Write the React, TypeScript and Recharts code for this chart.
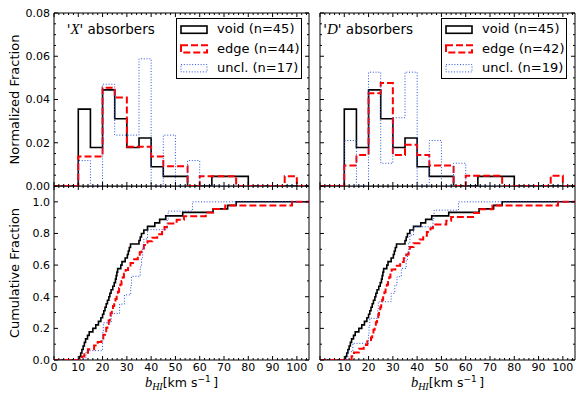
import React from 'react';
import { LineChart, Line, XAxis, YAxis, ReferenceArea } from 'recharts';

// b_HI values (km/s) of each absorber sample, sorted
const voidB = [10.5, 11.0, 11.5, 12.0, 12.5, 13.0, 13.8, 14.5, 16.0, 17.2, 18.3, 19.3,
  20.0, 20.5, 21.0, 21.5, 22.0, 22.6, 23.0, 23.5, 24.2, 24.8,
  25.3, 25.6, 25.9, 26.2, 27.5, 28.0, 29.3, 30.2, 30.6, 31.0, 31.5,
  35.0, 35.5, 36.0, 37.0, 38.5, 41.5, 43.5, 46.0, 53.0, 65.5, 71.5, 75.0];
const edgeXB = [11.5, 12.5, 14.0, 16.5, 18.0, 19.5,
  20.3, 21.0, 21.5, 22.0, 22.5, 23.0, 23.3, 23.8, 24.3, 24.8,
  25.3, 25.8, 26.3, 26.8, 27.3, 27.8, 28.3, 28.8, 29.5,
  30.5, 31.5, 33.0, 34.5, 35.3, 36.0, 37.0, 38.5, 40.5, 42.5, 44.5,
  45.5, 46.5, 50.5, 53.5, 62.5, 65.5, 70.5, 98.0];
const unclXB = [13.2, 20.0, 20.1, 20.3, 23.6, 27.0, 29.0, 31.6, 31.9,
  35.5, 36.0, 36.5, 37.0, 38.5, 46.5, 47.0, 57.0];
const edgeDB = [13.0, 14.0, 16.0, 18.0, 19.5,
  21.0, 21.5, 22.0, 22.5, 23.0, 23.5, 24.0, 24.3, 24.8,
  25.2, 25.6, 26.0, 26.5, 27.0, 27.5, 28.0, 28.5, 29.0, 29.5,
  31.0, 33.0, 34.5, 35.5, 36.5, 37.0, 38.5, 41.0, 42.5, 44.0,
  45.5, 46.5, 52.0, 54.0, 63.0, 65.5, 71.0, 98.0];
const unclDB = [11.5, 13.5, 20.0, 20.2, 20.5, 23.8, 24.0, 29.3, 30.8, 31.7, 33.5,
  35.5, 36.0, 36.5, 37.0, 38.5, 46.5, 47.0, 57.0];

const binEdges = [0, 5, 10, 15, 20, 25, 30, 35, 40, 45, 50, 55, 60, 65, 70, 75, 80, 85, 90, 95, 100, 105];
const BIN = 5;
const X_MAX = 105;

const xTicks = Array.from({ length: 53 }, (_, i) => i * 2);
const histTicks = Array.from({ length: 17 }, (_, i) => +(i * 0.005).toFixed(3));
const cumTicks = Array.from({ length: 12 }, (_, i) => +(i * 0.1).toFixed(1));

const frac = (vals: number[], lo: number) =>
  vals.filter((v) => v >= lo && v < lo + BIN).length / (vals.length * BIN);

const histRows = (vv: number[], ee: number[], uu: number[]) =>
  binEdges.map((lo) => ({ x: lo, void: frac(vv, lo), edge: frac(ee, lo), uncl: frac(uu, lo) }));

const ecdf = (vals: number[]) => [
  { x: 0, y: 0 },
  ...vals.map((v, i) => ({ x: v, y: (i + 1) / vals.length })),
  { x: X_MAX, y: 1 },
];

const STY = {
  void: { stroke: '#000000', strokeWidth: 1.6 },
  edge: { stroke: '#ff0000', strokeWidth: 2, strokeDasharray: '7 3' },
  uncl: { stroke: '#2a4fd8', strokeWidth: 1, strokeDasharray: '1 1.8' },
};

const PW = 255;
const GAP = 4;

const xTick = (plotH: number, labels: boolean) => (p: any) => {
  const v = p.payload.value;
  const major = v % 10 === 0;
  const len = major ? 4 : 2;
  const yb = p.y - GAP;
  return (
    <g>
      <line x1={p.x} x2={p.x} y1={yb} y2={yb - len} stroke="#000" />
      <line x1={p.x} x2={p.x} y1={yb - plotH} y2={yb - plotH + len} stroke="#000" />
      {labels && major && (
        <text x={p.x} y={p.y} dy="0.64em" textAnchor="middle" fontSize={11} fill="#000">{v}</text>
      )}
    </g>
  );
};

const yTick = (isMajor: (v: number) => boolean, fmt: ((v: number) => string) | null) => (p: any) => {
  const v = p.payload.value;
  const major = isMajor(v);
  const len = major ? 4 : 2;
  const xl = p.x + GAP;
  return (
    <g>
      <line x1={xl} x2={xl + len} y1={p.y} y2={p.y} stroke="#000" />
      <line x1={xl + PW} x2={xl + PW - len} y1={p.y} y2={p.y} stroke="#000" />
      {fmt && major && (
        <text x={p.x} y={p.y} dy="0.36em" textAnchor="end" fontSize={11} fill="#000">{fmt(v)}</text>
      )}
    </g>
  );
};

const LegendBox = ({ labels }: { labels: string[] }) => {
  const keys = ['void', 'edge', 'uncl'] as const;
  return (
    <svg width={127} height={62} style={{ position: 'absolute', overflow: 'visible' }}>
      <rect x={0.5} y={0.5} width={125} height={60} fill="#fff" stroke="#000" />
      {keys.map((k, i) => (
        <g key={k}>
          <rect x={5} y={8 + i * 19.3} width={26} height={7.3} fill="none" {...STY[k]} />
          <text x={41} y={15.3 + i * 19.3} fontSize={13} fill="#000">{labels[i]}</text>
        </g>
      ))}
    </svg>
  );
};

const Title = ({ x, letter }: { x: number; letter: string }) => (
  <text x={x} y={34.3} fontSize={13.5} fill="#000">
    {"'"}
    <tspan fontFamily="Liberation Serif" fontStyle="italic" fontSize={15}>{letter}</tspan>
    {"' absorbers"}
  </text>
);

const YLabel = ({ cy, text }: { cy: number; text: string }) => (
  <text x={19} y={cy} transform={`rotate(-90 19 ${cy})`} textAnchor="middle" fontSize={13} fill="#000">{text}</text>
);

const XLabel = ({ cx }: { cx: number }) => (
  <text x={cx} y={201} textAnchor="middle" fontSize={12.5} fill="#000">
    <tspan fontFamily="Liberation Serif" fontStyle="italic" fontSize={14.5}>b</tspan>
    <tspan fontFamily="Liberation Serif" fontStyle="italic" fontSize={10} dy={3}>HI</tspan>
    <tspan dy={-3}>[km s</tspan>
    <tspan fontSize={9} dy={-5}>−1</tspan>
    <tspan dy={5}>{'\u2009]'}</tspan>
  </text>
);

const HistPanel = ({ left, withY, ee, uu, letter }: any) => {
  const rows = histRows(voidB, ee, uu);
  const yW = withY ? 54 : 8;
  const w = yW + PW + 2;
  return (
    <div style={{ position: 'absolute', left, top: 0, width: w, height: 192 }}>
      <LineChart width={w} height={192} data={rows} margin={{ top: 13, right: 2, bottom: 0, left: 0 }}>
        <XAxis dataKey="x" type="number" domain={[0, X_MAX]} allowDataOverflow ticks={xTicks} interval={0}
          height={6} tickSize={0} tickMargin={GAP} axisLine={false} tick={xTick(173, false)} />
        <YAxis type="number" domain={[0, 0.08]} allowDataOverflow ticks={histTicks} interval={0}
          width={yW} tickSize={0} tickMargin={GAP} axisLine={false}
          tick={yTick((v) => Math.round(v * 1000) % 20 === 0, withY ? (v) => v.toFixed(2) : null)} />
        <Line type="stepAfter" dataKey="void" {...STY.void} dot={false} activeDot={false} isAnimationActive={false} />
        <Line type="stepAfter" dataKey="edge" {...STY.edge} dot={false} activeDot={false} isAnimationActive={false} />
        <Line type="stepAfter" dataKey="uncl" {...STY.uncl} dot={false} activeDot={false} isAnimationActive={false} />
        <ReferenceArea x1={0} x2={X_MAX} y1={0} y2={0.08} fill="none" stroke="#000" strokeWidth={1} />
      </LineChart>
      <svg width={w} height={192} style={{ position: 'absolute', left: 0, top: 0, pointerEvents: 'none' }}>
        <Title x={withY ? 66.7 : 11.3} letter={letter} />
        {withY && <YLabel cy={99.5} text="Normalized Fraction" />}
      </svg>
      <div style={{ position: 'absolute', left: withY ? 176 : 129, top: 18 }}>
        <LegendBox labels={[`void (n=${voidB.length})`, `edge (n=${ee.length})`, `uncl. (n=${uu.length})`]} />
      </div>
    </div>
  );
};

const CumPanel = ({ left, withY, ee, uu }: any) => {
  const yW = withY ? 54 : 8;
  const w = yW + PW + 2;
  return (
    <div style={{ position: 'absolute', left, top: 186, width: w, height: 209 }}>
      <LineChart width={w} height={209} margin={{ top: 0, right: 2, bottom: 0, left: 0 }}>
        <XAxis dataKey="x" type="number" domain={[0, X_MAX]} allowDataOverflow ticks={xTicks} interval={0}
          height={35} tickSize={0} tickMargin={GAP} axisLine={false} tick={xTick(174, true)} />
        <YAxis type="number" domain={[0, 1.1]} allowDataOverflow ticks={cumTicks} interval={0}
          width={yW} tickSize={0} tickMargin={GAP} axisLine={false}
          tick={yTick((v) => Math.round(v * 10) % 2 === 0 && v < 1.05, withY ? (v) => v.toFixed(1) : null)} />
        <Line data={ecdf(voidB)} type="stepAfter" dataKey="y" {...STY.void} dot={false} activeDot={false} isAnimationActive={false} />
        <Line data={ecdf(ee)} type="stepAfter" dataKey="y" {...STY.edge} dot={false} activeDot={false} isAnimationActive={false} />
        <Line data={ecdf(uu)} type="stepAfter" dataKey="y" {...STY.uncl} dot={false} activeDot={false} isAnimationActive={false} />
        <ReferenceArea x1={0} x2={X_MAX} y1={0} y2={1.1} fill="none" stroke="#000" strokeWidth={1} />
      </LineChart>
      <svg width={w} height={209} style={{ position: 'absolute', left: 0, top: 0, pointerEvents: 'none' }}>
        {withY && <YLabel cy={87} text="Cumulative Fraction" />}
        <XLabel cx={yW + PW / 2} />
      </svg>
    </div>
  );
};

export default function App() {
  return (
    <div style={{ position: 'absolute', left: 0, top: 0, width: 576, height: 395, background: '#fff', fontFamily: 'DejaVu Sans', overflow: 'hidden' }}>
      <HistPanel left={0} withY ee={edgeXB} uu={unclXB} letter="X" />
      <HistPanel left={312} withY={false} ee={edgeDB} uu={unclDB} letter="D" />
      <CumPanel left={0} withY ee={edgeXB} uu={unclXB} />
      <CumPanel left={312} withY={false} ee={edgeDB} uu={unclDB} />
    </div>
  );
}
